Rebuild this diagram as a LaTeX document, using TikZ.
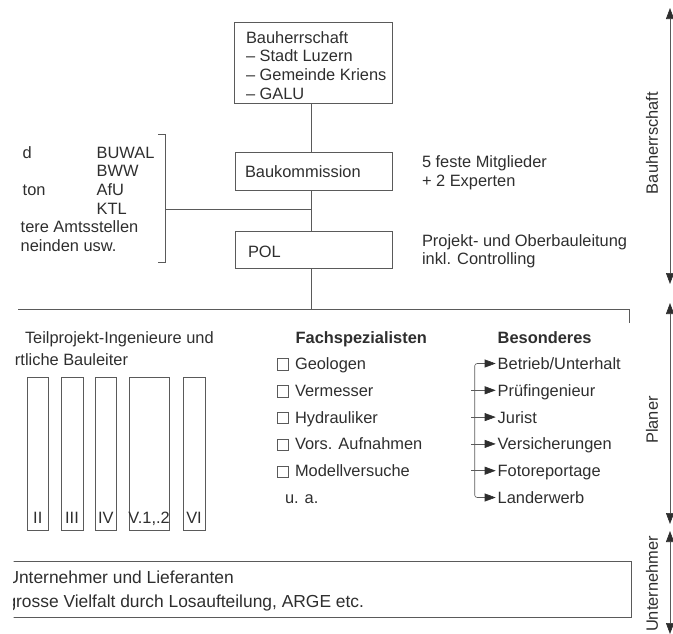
\documentclass[tikz,border=0pt]{standalone}
\usepackage{fontspec}
\setmainfont{Liberation Sans}
\usetikzlibrary{arrows.meta,calc}
\definecolor{ink}{HTML}{2E2E2E}
\definecolor{ln}{HTML}{5A5A5A}
\begin{document}
\begin{tikzpicture}[x=1pt,y=-1pt,
  every node/.style={font=\fontsize{16.4}{17}\selectfont, text=ink, inner sep=0pt, outer sep=0pt},
  txt/.style={anchor=base west},
  bold/.style={anchor=base west, font=\fontsize{16.4}{17}\selectfont\bfseries},
  big/.style={anchor=base west, font=\fontsize{17.4}{18}\selectfont},
  box/.style={draw=ln, line width=0.6pt, anchor=north west},
  col/.style={draw=ln, line width=0.6pt, anchor=north west, minimum height=152.5pt},
  sq/.style={draw=ln, line width=0.6pt, anchor=north west, minimum width=11.4pt, minimum height=11.4pt},
  conn/.style={draw=ln, line width=0.6pt},
  arr/.style={conn, -{Triangle[length=11pt,width=8pt,color=ink]}},
  darr/.style={conn, {Triangle[length=11pt,width=8pt,color=ink]}-{Triangle[length=11pt,width=8pt,color=ink]}},
  sarr/.style={conn, {Triangle[length=11pt,width=8pt,color=ink]}-{Triangle[length=11pt,width=8pt,color=ink]}},
  side/.style={rotate=90, font=\fontsize{16.4}{17}\selectfont}]
\useasboundingbox (0,0) rectangle (673,633);

% ---- Bauherrschaft block
\node[box, minimum width=158pt, minimum height=81pt] (bh) at (234,22) {};
\foreach \t [count=\i from 0] in {Bauherrschaft, {– Stadt Luzern}, {– Gemeinde Kriens}, {– GALU}}
  \node[txt] (bht\i) at (246,43+18.9*\i) {\t};

\node[box, minimum width=157pt, minimum height=38pt] (bk) at (235,152) {};
\node[txt] (bkt) at (245,177.5) {Baukommission};
\node[box, minimum width=157pt, minimum height=37pt] (pol) at (235,231) {};
\node[txt] (polt) at (248,257.5) {POL};

\node[txt] (r1) at (422,167) {5 feste Mitglieder};
\node[txt] (r2) at (422,186.5) {+ 2 Experten};
\node[txt] (r3) at (422,246) {Projekt- und Oberbauleitung};
\node[txt] (r4) at (422,264.5) {inkl. Controlling};

% ---- left list
\node[txt] (l1) at (22.7,158) {d};
\node[txt] (l2) at (96.7,158) {BUWAL};
\node[txt] (l3) at (96.7,176.7) {BWW};
\node[txt] (l4) at (22.7,195.4) {ton};
\node[txt] (l5) at (96.7,195.4) {AfU};
\node[txt] (l6) at (96.7,214.1) {KTL};
\node[txt] (l7) at (20.7,232.8) {tere Amtsstellen};
\node[txt] (l8) at (20.7,251.5) {neinden usw.};

\coordinate (brT) at (158,134);
\coordinate (brB) at (158,262.3);
\coordinate (brM) at (165,209.3);
\coordinate (vM) at (311.5,209.3);
\draw[conn] (brT) -- (165,134) -- (165,262.3) -- (brB);
\draw[conn] (brM) -- (vM);

% ---- vertical connectors
\draw[conn] (bh.south -| 311.5,0) -- (bk.north -| 311.5,0);
\draw[conn] (bk.south -| 311.5,0) -- (pol.north -| 311.5,0);
\coordinate (hb) at (311.5,309);
\draw[conn] (pol.south -| 311.5,0) -- (hb);
\coordinate (hL) at (18,309);
\coordinate (hR) at (629,309);
\coordinate (hT) at (629,323);
\draw[conn] (hL) -- (hR) -- (hT);

% ---- Teilprojekt
\node[txt] (tp1) at (25,343.5) {Teilprojekt-Ingenieure und};
\node[txt] (tp2) at (15,365) {rtliche Bauleiter};
\foreach \xa/\xb/\lab [count=\i] in {27.3/48.3/II, 61/83/III, 95/116.7/IV, 129/169.3/{V.1,.2}, 183/205/VI}{
  \node[col, minimum width=\xb pt-\xa pt] (c\i) at (\xa,377.3) {};
  \node[anchor=base] (cl\i) at ({(\xa+\xb)/2},523) {\lab};
}

% ---- Fachspezialisten
\node[bold] (fs) at (295.7,343) {Fachspezialisten};
\foreach \t [count=\i from 0] in {Geologen, Vermesser, Hydrauliker, {Vors. Aufnahmen}, Modellversuche}{
  \node[sq] (s\i) at (277,358.6+26.8*\i) {};
  \node[txt] (f\i) at (295,369.5+26.8*\i) {\t};
}
\node[txt] (ua) at (285,503.5) {u. a.};

% ---- Besonderes
\node[bold] (bes) at (497.7,343) {Besonderes};
\foreach \t [count=\i from 0] in {Betrieb/Unterhalt, Prüfingenieur, Jurist, Versicherungen, Fotoreportage, Landerwerb}
  \node[txt] (b\i) at (497.7,369.5+26.8*\i) {\t};
\draw[darr, rounded corners=2.5pt] ([xshift=-2pt,yshift=6pt]b0.base west) -- ++(-21,0) |- ([xshift=-2pt,yshift=6pt]b5.base west);
\foreach \i in {1,2,3,4}
  \draw[arr] ([xshift=-26.5pt,yshift=6pt]b\i.base west) -- ([xshift=-2pt,yshift=6pt]b\i.base west);

% ---- Unternehmer box (cut at the left)
\begin{scope}
  \clip (13.5,540) rectangle (660,630);
  \draw[conn] (0,561) -- (631,561) -- (631,617.5) -- (0,617.5);
  \node[big] (u1) at (6.5,583.5) {Unternehmer und Lieferanten};
  \node[big] (u2) at (6.5,607) {grosse Vielfalt durch Losaufteilung, ARGE etc.};
\end{scope}

% ---- side labels
\node[side] (sb) at (652,143) {Bauherrschaft};
\node[side] (sp) at (652,420) {Planer};
\node[side] (su) at (652,584) {Unternehmer};
\coordinate (a1t) at (670,8);
\coordinate (a1b) at (670,284);
\coordinate (a2t) at (670,303);
\coordinate (a2b) at (670,524);
\coordinate (a3t) at (670,531);
\coordinate (a3b) at (670,634);
\draw[sarr] (a1t) -- (a1b);
\draw[sarr] (a2t) -- (a2b);
\draw[sarr] (a3t) -- (a3b);
\end{tikzpicture}
\end{document}
